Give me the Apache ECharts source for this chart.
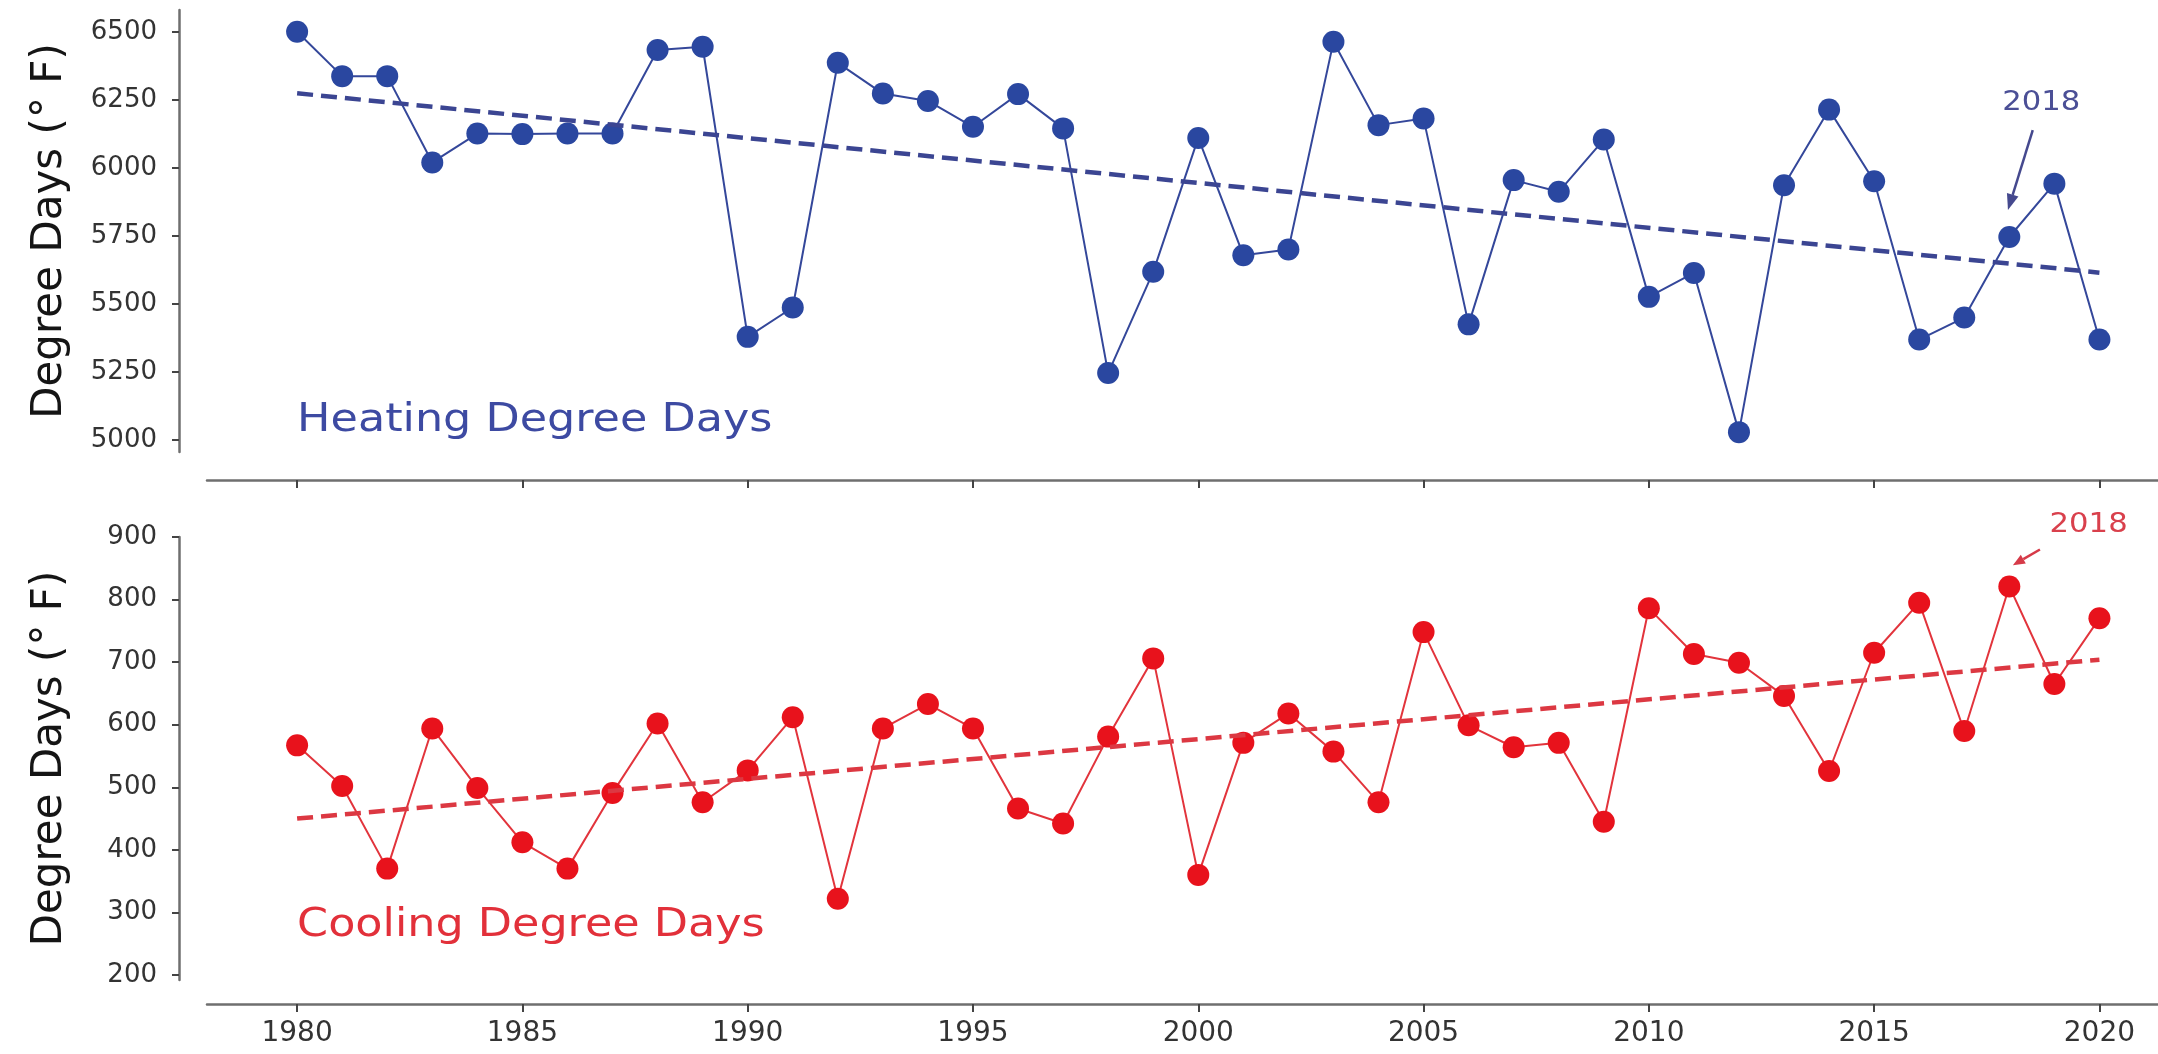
<!DOCTYPE html>
<html>
<head>
<meta charset="utf-8">
<script src="https://cdn.jsdelivr.net/npm/echarts@6/dist/echarts.min.js"></script>
<style>
  html, body { margin: 0; padding: 0; background: #fff; }
  #main { width: 2158px; height: 1054px; }
</style>
</head>
<body>
<div id="main"></div>
<script>
// years on the x axis
var years = [1980, 1981, 1982, 1983, 1984, 1985, 1986, 1987, 1988, 1989,
             1990, 1991, 1992, 1993, 1994, 1995, 1996, 1997, 1998, 1999,
             2000, 2001, 2002, 2003, 2004, 2005, 2006, 2007, 2008, 2009,
             2010, 2011, 2012, 2013, 2014, 2015, 2016, 2017, 2018, 2019, 2020];

// heating degree days (top panel)
var heating = [6500, 6337, 6337, 6020, 6126, 6124, 6126, 6126, 6433, 6445,
               5379, 5487, 6386, 6273, 6246, 6151, 6271, 6145, 5246, 5618,
               6110, 5679, 5700, 6463, 6157, 6181, 5425, 5955, 5912, 6104,
               5526, 5614, 5029, 5936, 6214, 5951, 5369, 5450, 5746, 5942, 5369];

// cooling degree days (bottom panel)
var cooling = [567, 502, 370, 594, 499, 412, 370, 491, 602, 476,
               527, 612, 322, 594, 633, 594, 466, 442, 581, 706,
               360, 571, 618, 557, 476, 748, 599, 564, 571, 445,
               786, 713, 699, 646, 526, 715, 795, 590, 821, 665, 770];

// linear trend, value at first and last year
var trendYears = [1980, 2020];
var heatTrend = [6274, 5615];
var coolTrend = [450, 704];

// tick labels
var xTicks = [1980, 1985, 1990, 1995, 2000, 2005, 2010, 2015, 2020];
var heatTicks = [5000, 5250, 5500, 5750, 6000, 6250, 6500];
var coolTicks = [200, 300, 400, 500, 600, 700, 800, 900];

var BLUE = '#2a47a0', BLUE_LINE = '#34479a', BLUE_TREND = '#3b4592', BLUE_TEXT = '#3d4aa2';
var RED = '#e8121c', RED_LINE = '#e2343c', RED_TREND = '#dc3842', RED_TEXT = '#e2303a';
var FONT = 'DejaVu Sans';

function plain(v) {
    return String(v);
}

function pairs(xs, ys) {
    return xs.map(function (x, i) { return [x, ys[i]]; });
}

function xAxisOpt(idx, offset, showLabel) {
    return {
        type: 'value', gridIndex: idx, min: 1978, max: 2021.3, offset: offset,
        axisLine: {show: true, lineStyle: {color: '#6f6f6f', width: 2.5}},
        axisTick: {show: true, length: 8, lineStyle: {color: '#444', width: 2}, customValues: xTicks},
        axisLabel: {show: showLabel, customValues: xTicks, formatter: plain,
                    fontSize: 28, fontFamily: FONT, color: '#333', margin: 16},
        splitLine: {show: false}
    };
}

function yAxisOpt(idx, min, max, ticks) {
    return {
        type: 'value', gridIndex: idx, min: min, max: max, offset: 28,
        name: 'Degree Days (° F)', nameLocation: 'middle', nameGap: 108,
        nameTextStyle: {fontSize: 42, fontFamily: FONT, color: '#151515'},
        axisLine: {show: true, lineStyle: {color: '#6f6f6f', width: 2.5}},
        axisTick: {show: true, length: 7, lineStyle: {color: '#444', width: 2}, customValues: ticks},
        axisLabel: {customValues: ticks, formatter: plain,
                    fontSize: 26, fontFamily: FONT, color: '#333', margin: 22},
        splitLine: {show: false}
    };
}

function dataSeries(idx, values, line, dot) {
    return {
        type: 'line', xAxisIndex: idx, yAxisIndex: idx, data: pairs(years, values),
        symbol: 'circle', symbolSize: 22, z: 3,
        lineStyle: {color: line, width: 2}, itemStyle: {color: dot}
    };
}

function trendSeries(idx, values, color) {
    return {
        type: 'line', xAxisIndex: idx, yAxisIndex: idx, data: pairs(trendYears, values),
        symbol: 'none', z: 4,
        lineStyle: {color: color, width: 4.5, type: [16, 8]}
    };
}

var myChart = echarts.init(document.getElementById('main'));
myChart.setOption({
    animation: false,
    backgroundColor: '#fff',
    grid: [
        {left: 207, right: 0, top: 10, height: 442},
        {left: 207, right: 0, top: 537, height: 443}
    ],
    xAxis: [xAxisOpt(0, 28, false), xAxisOpt(1, 24, true)],
    yAxis: [yAxisOpt(0, 4956, 6580, heatTicks), yAxisOpt(1, 192, 900, coolTicks)],
    series: [
        dataSeries(0, heating, BLUE_LINE, BLUE),
        trendSeries(0, heatTrend, BLUE_TREND),
        dataSeries(1, cooling, RED_LINE, RED),
        trendSeries(1, coolTrend, RED_TREND)
    ]
});

// annotations, placed in data units
var heatLabelAt = [1980, 5070], coolLabelAt = [1980, 278];
var heatNoteAt = [2018.71, 6236], heatArrow = [[2018.52, 6139], [2017.97, 5845]];
var coolNoteAt = [2019.76, 918], coolArrow = [[2018.68, 880], [2018.08, 855]];

function px(idx, p) {
    return myChart.convertToPixel({gridIndex: idx}, p);
}

function arrow(idx, seg, color, head, width) {
    var a = px(idx, seg[0]), b = px(idx, seg[1]);
    var dx = b[0] - a[0], dy = b[1] - a[1];
    var len = Math.sqrt(dx * dx + dy * dy);
    var ux = dx / len, uy = dy / len;
    var bx = b[0] - ux * head, by = b[1] - uy * head;
    return [
        {type: 'line', shape: {x1: a[0], y1: a[1], x2: bx, y2: by},
         style: {stroke: color, lineWidth: 2.5}, z: 10},
        {type: 'polygon', shape: {points: [
            [b[0], b[1]],
            [bx - uy * width / 2, by + ux * width / 2],
            [bx + uy * width / 2, by - ux * width / 2]
        ]}, style: {fill: color}, z: 10}
    ];
}

function label(idx, at, text, color, size, align, sx) {
    var p = px(idx, at);
    return {type: 'text', x: p[0], y: p[1], scaleX: sx, z: 10,
        style: {text: text, fill: color, font: size + 'px "' + FONT + '"',
                align: align, verticalAlign: 'middle'}};
}

var g = [];
g.push(label(0, heatLabelAt, 'Heating Degree Days', BLUE_TEXT, 39, 'left', 1.14));
g.push(label(1, coolLabelAt, 'Cooling Degree Days', RED_TEXT, 39, 'left', 1.14));
g.push(label(0, heatNoteAt, '2018', '#4b4f96', 26, 'center', 1.18));
g.push(label(1, coolNoteAt, '2018', '#d9404c', 26, 'center', 1.18));
g = g.concat(arrow(0, heatArrow, '#45498e', 16, 12));
g = g.concat(arrow(1, coolArrow, '#d63a48', 12, 10));
myChart.setOption({graphic: g});
</script>
</body>
</html>
